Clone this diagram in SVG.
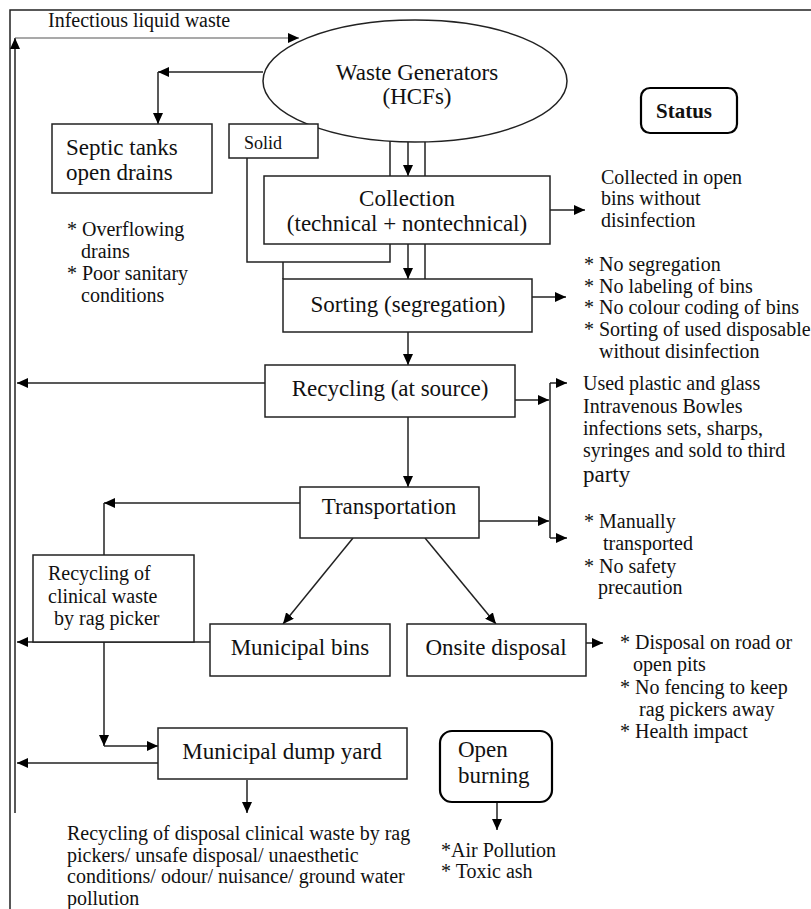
<svg xmlns="http://www.w3.org/2000/svg" width="811" height="909" viewBox="0 0 811 909">
<style>
  .bx{fill:#fff;stroke:#222;stroke-width:1.5}
  .rb{fill:#fff;stroke:#000;stroke-width:2.2}
  .ln{fill:none;stroke:#222;stroke-width:1.5}
  .ar{fill:none;stroke:#222;stroke-width:1.5;marker-end:url(#ah)}
  text{font-family:"Liberation Serif","Times New Roman",serif;fill:#111}
  .b{font-size:23px}
  .n{font-size:20px}
  .m{text-anchor:middle}
</style>
<defs>
  <marker id="ah" markerUnits="userSpaceOnUse" markerWidth="12" markerHeight="10" refX="11" refY="5" orient="auto">
    <path d="M0,0 L11,5 L0,10 Z" fill="#000"/>
  </marker>
</defs>
<rect width="811" height="909" fill="#fff"/>

<g id="frame">
  <path class="ln" d="M10,909 V10 H811"/>
</g>

<g id="connectors">
  <path class="ar" d="M15,813 V38"/>
  <path d="M15,38 H299" fill="none" stroke="#555" stroke-width="1.2" marker-end="url(#ah)"/>
  <path class="ar" d="M263,72 H158"/>
  <path class="ar" d="M158,72 V124"/>
  <path class="ln" d="M390,176 V141 H425 V176"/>
  <path class="ar" d="M408,141 V176"/>
  <path class="ln" d="M247,158 V262 H390 V244"/>
  <path class="ln" d="M283,262 V279"/>
  <path class="ar" d="M408,244 V279"/>
  <path class="ln" d="M425,244 V279"/>
  <path class="ar" d="M550,210 H585"/>
  <path class="ar" d="M532,297 H566"/>
  <path class="ar" d="M408,332 V365"/>
  <path class="ar" d="M265,383 H17"/>
  <path class="ar" d="M515,400 H549"/>
  <path class="ln" d="M550,383 V538"/>
  <path class="ar" d="M550,383 H567"/>
  <path class="ar" d="M550,538 H567"/>
  <path class="ar" d="M408,417 V487"/>
  <path class="ar" d="M479,521 H549"/>
  <path class="ar" d="M300,503 H104"/>
  <path class="ln" d="M104,503 V555"/>
  <path class="ar" d="M353,538 L283,624"/>
  <path class="ar" d="M425,538 L496,624"/>
  <path class="ar" d="M210,642 H17"/>
  <path class="ar" d="M104,642 V746"/>
  <path class="ar" d="M104,746 H158"/>
  <path class="ar" d="M158,763 H17"/>
  <path class="ar" d="M247,780 V813"/>
  <path class="ar" d="M586,643 H603"/>
  <path class="ar" d="M497,803 V830"/>
</g>

<g id="liquid-label">
  <text class="n" x="48" y="27">Infectious liquid waste</text>
</g>

<g id="generators">
  <ellipse cx="415" cy="81" rx="152" ry="61" class="bx"/>
  <text class="b m" x="417" y="80" font-size="21">Waste Generators</text>
  <text class="b m" x="417" y="104" font-size="21">(HCFs)</text>
</g>

<g id="status">
  <rect x="641" y="88" width="96" height="45" rx="9" class="rb"/>
  <text class="m" x="684" y="118" font-size="21" font-weight="bold">Status</text>
</g>

<g id="septic">
  <rect x="52" y="124" width="160" height="69" class="bx"/>
  <text class="b" x="66" y="155">Septic tanks</text>
  <text class="b" x="66" y="180">open drains</text>
</g>
<g id="septic-notes">
  <text class="n" x="67" y="236">* Overflowing</text>
  <text class="n" x="81" y="258">drains</text>
  <text class="n" x="67" y="280">* Poor sanitary</text>
  <text class="n" x="81" y="302">conditions</text>
</g>

<g id="solid">
  <rect x="229" y="124" width="89" height="34" class="bx"/>
  <text x="244" y="149" font-size="18">Solid</text>
</g>

<g id="collection">
  <rect x="264" y="176" width="286" height="68" class="bx"/>
  <text class="b m" x="407" y="206">Collection</text>
  <text class="b m" x="407" y="231">(technical + nontechnical)</text>
</g>
<g id="collection-notes">
  <text class="n" x="601" y="184">Collected in open</text>
  <text class="n" x="601" y="205">bins without</text>
  <text class="n" x="601" y="227">disinfection</text>
</g>

<g id="sorting">
  <rect x="283" y="279" width="249" height="53" class="bx"/>
  <text class="b m" x="408" y="312">Sorting (segregation)</text>
</g>
<g id="sorting-notes">
  <text class="n" x="584" y="271">* No segregation</text>
  <text class="n" x="584" y="293">* No labeling of bins</text>
  <text class="n" x="584" y="314">* No colour coding of bins</text>
  <text class="n" x="584" y="336">* Sorting of used disposables</text>
  <text class="n" x="599" y="358">without disinfection</text>
</g>

<g id="recycling">
  <rect x="265" y="365" width="250" height="52" class="bx"/>
  <text class="b m" x="390" y="396">Recycling (at source)</text>
</g>
<g id="recycling-notes">
  <text class="n" x="583" y="390">Used plastic and glass</text>
  <text class="n" x="583" y="413">Intravenous Bowles</text>
  <text class="n" x="583" y="435">infections sets, sharps,</text>
  <text class="n" x="583" y="457">syringes and sold to third</text>
  <text x="583" y="482" font-size="23">party</text>
</g>

<g id="transportation">
  <rect x="300" y="487" width="179" height="51" class="bx"/>
  <text class="b m" x="389" y="514">Transportation</text>
</g>
<g id="transport-notes">
  <text class="n" x="584" y="528">* Manually</text>
  <text class="n" x="603" y="550">transported</text>
  <text class="n" x="584" y="573">* No safety</text>
  <text class="n" x="598" y="594">precaution</text>
</g>

<g id="ragpicker">
  <rect x="33" y="555" width="161" height="87" class="bx"/>
  <text class="n" x="48" y="580">Recycling of</text>
  <text class="n" x="48" y="603">clinical waste</text>
  <text class="n" x="54" y="625">by rag picker</text>
</g>

<g id="municipal-bins">
  <rect x="210" y="624" width="180" height="52" class="bx"/>
  <text class="b m" x="300" y="655">Municipal bins</text>
</g>

<g id="onsite">
  <rect x="407" y="624" width="179" height="52" class="bx"/>
  <text class="b m" x="496" y="655">Onsite disposal</text>
</g>
<g id="onsite-notes">
  <text class="n" x="620" y="649">* Disposal on road or</text>
  <text class="n" x="633" y="671">open pits</text>
  <text class="n" x="620" y="694">* No fencing to keep</text>
  <text class="n" x="639" y="716">rag pickers away</text>
  <text class="n" x="620" y="738">* Health impact</text>
</g>

<g id="dump-yard">
  <rect x="158" y="728" width="249" height="51" class="bx"/>
  <text class="b m" x="282" y="759">Municipal dump yard</text>
</g>
<g id="dump-notes">
  <text class="n" x="67" y="840">Recycling of disposal clinical waste by rag</text>
  <text class="n" x="67" y="862">pickers/ unsafe disposal/ unaesthetic</text>
  <text class="n" x="67" y="883">conditions/ odour/ nuisance/ ground water</text>
  <text class="n" x="67" y="905">pollution</text>
</g>

<g id="open-burning">
  <rect x="440" y="731" width="112" height="71" rx="12" class="rb"/>
  <text class="b" x="458" y="757">Open</text>
  <text class="b" x="458" y="783">burning</text>
</g>
<g id="burning-notes">
  <text class="n" x="441" y="857">*Air Pollution</text>
  <text class="n" x="441" y="878">* Toxic ash</text>
</g>
</svg>
